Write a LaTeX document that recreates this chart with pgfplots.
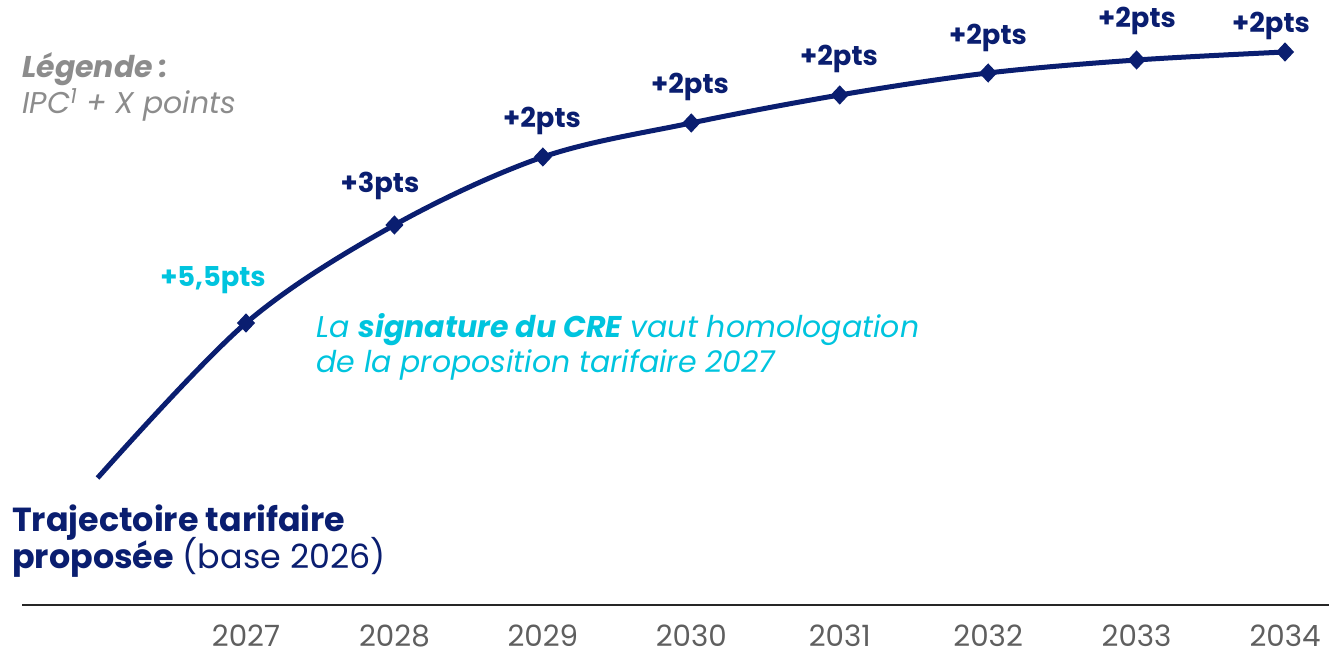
\documentclass[border=0pt]{standalone}
\usepackage{pgfplots}
\pgfplotsset{compat=1.18}
\usepackage{fontspec}
\setmainfont{Poppins}
\definecolor{navy}{RGB}{10,30,112}
\definecolor{cyanr}{RGB}{0,196,222}
\definecolor{legg}{RGB}{140,140,140}
\definecolor{yearg}{RGB}{95,95,95}
\pgfplotstableread{
year val
2026 181
2027 336
2028 434
2029 502
2030 536
2031 564
2032 586
2033 599
2034 607
}\traj
\pgfplotstableread{
year val
2027 336
2028 434
2029 502
2030 536
2031 564
2032 586
2033 599
2034 607
}\trajmarks
\begin{document}
\begin{tikzpicture}
\begin{axis}[
  scale only axis,
  width=980.25pt, height=453.75pt,
  xmin=2025.4909, xmax=2034.2964,
  ymin=54, ymax=659,
  axis x line*=bottom,
  axis y line=none,
  x axis line style={-, line width=1.5pt, color=black!85},
  xtick={2027,2028,2029,2030,2031,2032,2033,2034},
  xticklabels={2027,2028,2029,2030,2031,2032,2033,2034},
  major tick length=0pt,
  xticklabel style={anchor=base, yshift=-30.75pt, text=yearg, font=\fontsize{22}{23}\selectfont},
  clip=false,
]
\addplot[navy, line width=3.75pt, smooth, tension=0.55, no marks] table[x=year,y=val]{\traj};
\addplot[navy, only marks, mark=diamond*, mark size=6.5pt, mark options={fill=navy, line width=1pt, xscale=1.25}] table[x=year,y=val]{\trajmarks};
\end{axis}
\pgfresetboundingbox
\path (current axis.south west) ++(-16.5pt,-40.5pt) rectangle (current axis.north east);
\begin{scope}[x=0.75pt,y=-0.75pt, shift={(current axis.south west)}, shift={(-22,-605)}]
  \begin{scope}[every node/.style={inner sep=0pt, anchor=base, font=\bfseries\fontsize{20.5}{21}\selectfont, text=navy}]
    \node[text=cyanr] at (213,287) {+5,5pts};
    \node at (380,193) {+3pts};
    \node at (542,128) {+2pts};
    \node at (690,94) {+2pts};
    \node at (839,66) {+2pts};
    \node at (988,45) {+2pts};
    \node at (1137,28) {+2pts};
    \node at (1271,33) {+2pts};
  \end{scope}
  \node[inner sep=0pt, anchor=base west, text=legg, font=\fontsize{22.5}{23}\selectfont\bfseries\itshape] at (22,78) {Légende :};
  \node[inner sep=0pt, anchor=base west, text=legg, font=\fontsize{22.5}{23}\selectfont\itshape] at (22,114) {IPC\textsuperscript{1} + X points};
  \node[inner sep=0pt, anchor=base west, text=cyanr, font=\fontsize{22.5}{23}\selectfont\itshape] at (316,338) {La \textbf{signature du CRE} vaut homologation};
  \node[inner sep=0pt, anchor=base west, text=cyanr, font=\fontsize{22.5}{23}\selectfont\itshape] at (316,373) {de la proposition tarifaire 2027};
  \node[inner sep=0pt, anchor=base west, text=navy, font=\fontsize{25}{26}\selectfont\bfseries] at (12,532) {Trajectoire tarifaire};
  \node[inner sep=0pt, anchor=base west, text=navy, font=\fontsize{25}{26}\selectfont] at (12,569) {\textbf{proposée} (base 2026)};
\end{scope}
\end{tikzpicture}
\end{document}
